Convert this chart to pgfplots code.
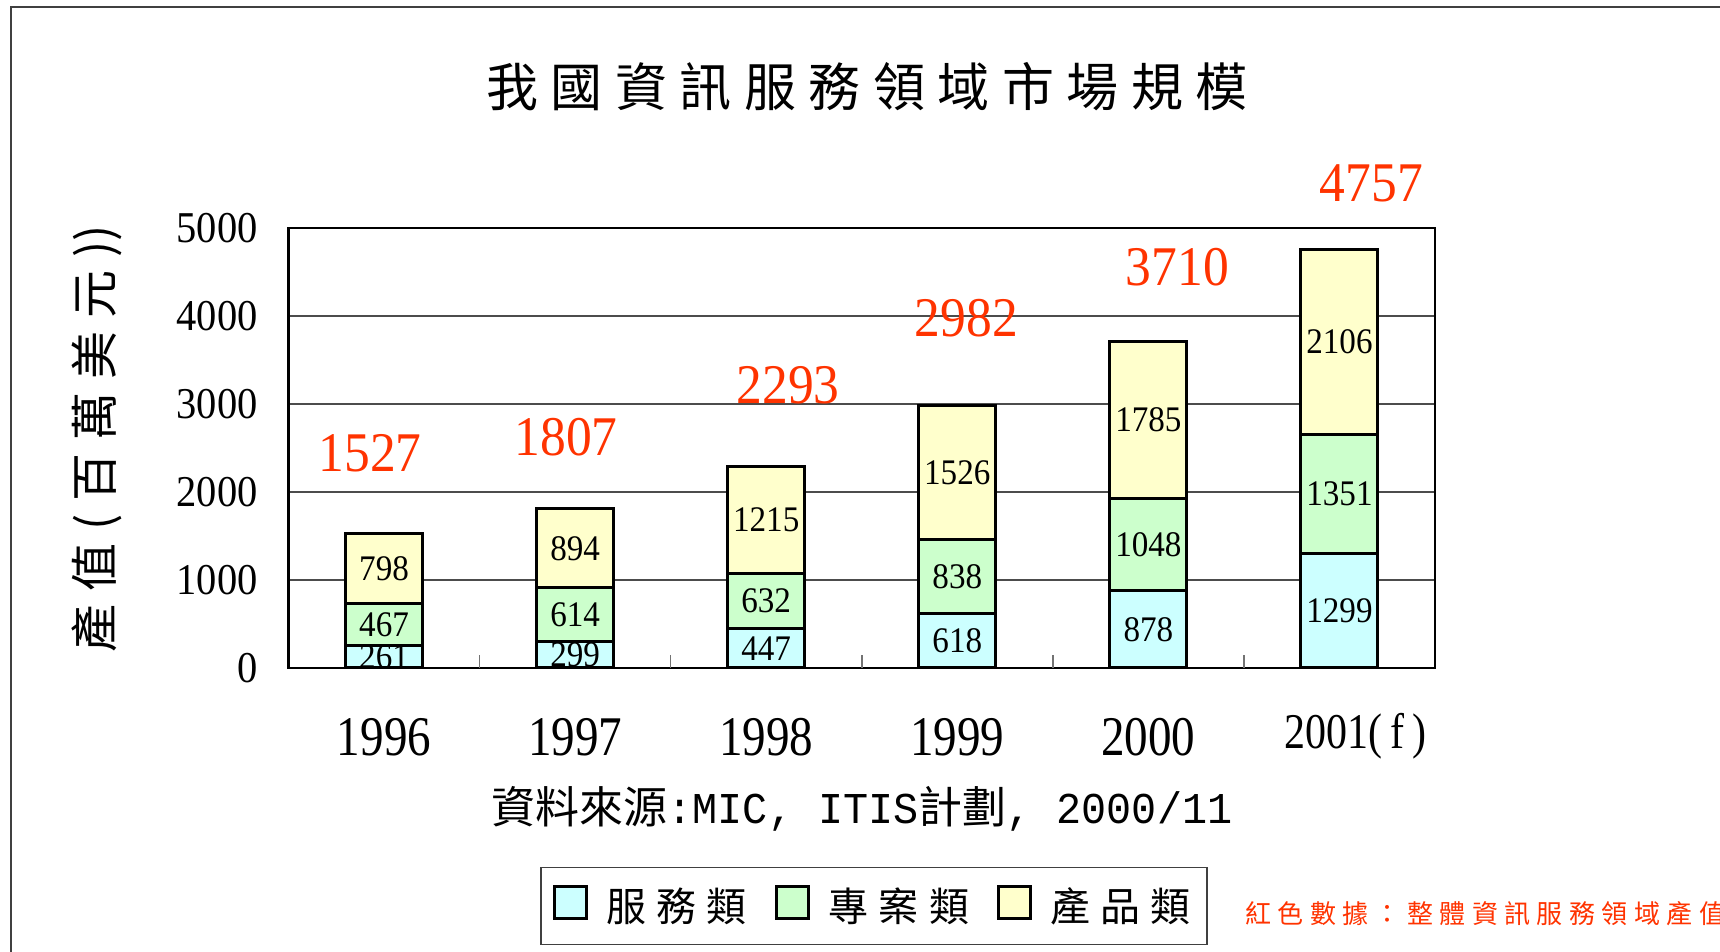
\documentclass[border=0pt]{standalone}
\usepackage{pgfplots}
\pgfplotsset{compat=1.18}
\usepackage{pgfplotstable}
\usepackage{fontspec}
\setmainfont{Liberation Serif}
\newfontfamily\cjk{Noto Sans CJK TC}
\newfontfamily\ytf{Liberation Serif}[FakeStretch=0.92]
\newfontfamily\xtf{Liberation Serif}[FakeStretch=0.84]
\newfontfamily\blf{Liberation Serif}[FakeStretch=0.92]
\newfontfamily\mono{Liberation Mono}[FakeStretch=0.95]

\definecolor{cserv}{RGB}{204,255,255}
\definecolor{cproj}{RGB}{204,255,204}
\definecolor{cprod}{RGB}{255,255,204}
\definecolor{tred}{RGB}{255,51,0}

\makeatletter
\newcommand\spc[2]{\begingroup\def\spc@first{1}\@tfor\spc@c:=#2\do{\ifx\spc@first\@empty\hspace{#1}\fi\def\spc@first{}\spc@c}\endgroup}
\makeatother

% values; lx, ly: position of the red total label (axis units)
\pgfplotstableread{
x s p q t lx ly
0 261 467 798 1527 -0.073 2436
1 299 614 894 1807 0.953 2625
2 447 632 1215 2293 2.115 3213
3 618 838 1526 2982 3.047 3971
4 878 1048 1785 3710 4.152 4551
5 1299 1351 2106 4757 5.167 5507
}\data

\pgfplotsset{seglabel/.style={nodes near coords, point meta=explicit symbolic,
  every node near coord/.append style={font=\blf\fontsize{18}{20}\selectfont, text=black, anchor=center, inner sep=0pt}}}

\begin{document}
\begin{tikzpicture}
\useasboundingbox (-144.25pt,-142pt) rectangle (715.75pt,334pt);
\begin{axis}[
  at={(0pt,0pt)}, anchor=south west,
  scale only axis, width=573.25pt, height=220pt,
  ybar stacked, bar width=38.5pt,
  enlargelimits=false,
  xmin=-0.5, xmax=5.5, ymin=0, ymax=5000,
  xtick={0,1,2,3,4,5},
  xticklabels={1996,1997,1998,1999,2000,{\hspace*{16pt}\raisebox{6pt}{\fontsize{25}{25}\selectfont 2001(\,f\,)}}},
  xticklabel style={font=\xtf\fontsize{28}{30}\selectfont, anchor=center, inner sep=0pt, yshift=-34.5pt},
  ytick={0,1000,2000,3000,4000,5000},
  /pgf/number format/assume math mode=true,
  /pgf/number format/1000 sep={},
  yticklabel style={font=\ytf\fontsize{22}{24}\selectfont, anchor=east, inner sep=0pt, xshift=-15.25pt},
  major tick length=0pt,
  tick pos=left,
  extra x ticks={0.5,1.5,2.5,3.5,4.5},
  extra x tick labels={},
  extra x tick style={grid=none, major tick length=6.5pt, tick style={draw=black!55, line width=0.8pt}},
  ymajorgrids, grid style={draw=black!70, line width=0.6pt},
  axis line style={line width=1.4pt},
  ylabel={\spc{6.5pt}{產值(百萬美元}\hspace{6.5pt}))},
  every axis y label/.style={at={(axis description cs:-0.1675,0.5205)}, rotate=90, anchor=center, font=\cjk\fontsize{24}{26}\selectfont},
  legend columns=3,
  legend style={at={(0.5107,-0.541)}, anchor=center, draw=black!75, line width=0.8pt,
    font=\cjk\fontsize{20}{22}\selectfont, inner xsep=6pt, inner ysep=8pt,
    /tikz/every odd column/.style={column sep=7pt},
    /tikz/every even column/.style={column sep=12pt}},
  legend entries={{\spc{5.25pt}{服務類}},{\spc{5.25pt}{專案類}},{\spc{5.25pt}{產品類}}},
]
\addplot[fill=cserv, draw=black, line width=1.5pt,
  legend image code/.code={\draw[fill=cserv,draw=black,line width=1.5pt] (0pt,-6pt) rectangle (16pt,10pt);},
  seglabel] table[x=x,y=s,meta=s]{\data};
\addplot[fill=cproj, draw=black, line width=1.5pt,
  legend image code/.code={\draw[fill=cproj,draw=black,line width=1.5pt] (0pt,-6pt) rectangle (16pt,10pt);},
  seglabel] table[x=x,y=p,meta=p]{\data};
\addplot[fill=cprod, draw=black, line width=1.5pt,
  legend image code/.code={\draw[fill=cprod,draw=black,line width=1.5pt] (0pt,-6pt) rectangle (16pt,10pt);},
  seglabel] table[x=x,y=q,meta=q]{\data};
\end{axis}
\begin{axis}[
  at={(0pt,0pt)}, anchor=south west,
  scale only axis, width=573.25pt, height=220pt,
  enlargelimits=false,
  xmin=-0.5, xmax=5.5, ymin=0, ymax=5000,
  hide axis, clip=false]
\addplot[draw=none, mark=none, nodes near coords, point meta=explicit symbolic,
  every node near coord/.append style={font=\blf\fontsize{28}{30}\selectfont, text=tred, anchor=center, inner sep=0pt}]
  table[x=lx,y=ly,meta=t]{\data};
\end{axis}
\node[font=\cjk\fontsize{26}{28}\selectfont] at (289.25pt,290.5pt) {\spc{6.25pt}{我國資訊服務領域市場規模}};
\node[font=\fontsize{22}{24}\selectfont] at (286.75pt,-70.25pt) {{\cjk 資料來源}{\mono :MIC, ITIS}{\cjk 計劃}{\mono , 2000/11}};
\node[anchor=west, text=tred, font=\cjk\fontsize{13}{15}\selectfont, inner sep=0pt] at (478.25pt,-123pt) {\spc{3.2pt}{紅色數據：整體資訊服務領域產值}};
\draw[line width=1pt, black!75] (-138.75pt,-150pt) -- (-138.75pt,330.7pt) -- (720pt,330.7pt);
\end{tikzpicture}
\end{document}
